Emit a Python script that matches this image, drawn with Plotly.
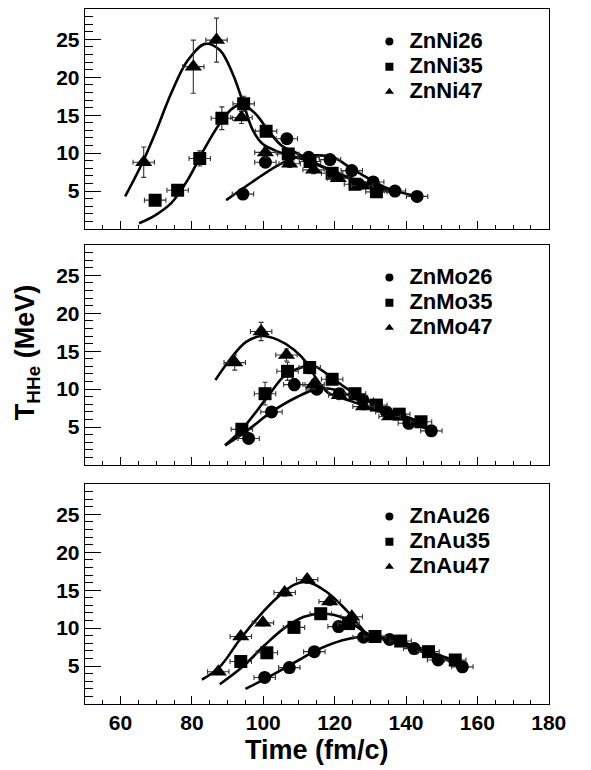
import plotly.graph_objects as go

# ---------------- data ----------------
# Top panel: Zn + Ni
ni26_t = [94.3, 100.6, 106.6, 112.7, 118.7, 124.8, 130.8, 136.9, 143.1]
ni26_T = [4.6, 8.8, 11.9, 9.45, 9.15, 7.7, 6.2, 5.0, 4.3]
ni26_err = [0.4, 0.6, 0.6, 0.5, 0.5, 0.4, 0.4, 0.4, 0.3]

ni35_t = [69.7, 76.0, 82.2, 88.4, 94.5, 100.8, 107.0, 113.1, 119.3, 125.7, 131.7]
ni35_T = [3.8, 5.1, 9.3, 14.6, 16.5, 12.9, 9.9, 8.9, 7.35, 5.9, 4.9]
ni35_err = [0.4, 0.5, 1.0, 1.5, 1.0, 0.6, 0.5, 0.5, 0.5, 0.4, 0.4]

ni47_t = [66.5, 80.4, 86.9, 93.9, 100.6, 107.4, 114.1, 121.0, 127.7]
ni47_T = [8.8, 21.4, 24.9, 14.7, 10.1, 8.6, 7.8, 6.7, 5.7]
ni47_err = [2.0, 3.5, 2.9, 0.8, 0.7, 0.5, 0.5, 0.4, 0.4]

ni26_fit_t = [89.6, 96.9, 104.1, 109.6, 115.0, 119.5, 124.0, 128.6, 134.9, 143.1]
ni26_fit_T = [3.8, 6.2, 8.4, 9.5, 9.7, 9.5, 8.2, 6.9, 5.35, 4.3]
ni35_fit_t = [65.2, 69.7, 74.2, 78.8, 83.3, 87.8, 91.4, 94.2, 97.8, 101.4, 105.0, 109.6, 115.0, 121.0, 127.0, 133.0, 138.0]
ni35_fit_T = [0.75, 1.8, 3.4, 6.45, 10.4, 13.9, 15.9, 16.4, 15.2, 13.0, 11.05, 9.95, 8.6, 7.3, 6.1, 5.2, 4.6]
ni47_fit_t = [61.3, 66.0, 69.7, 74.2, 78.8, 83.7, 87.8, 91.4, 94.6, 96.9, 99.6, 104.1, 110.5, 117.0, 124.0, 131.0, 137.0]
ni47_fit_T = [4.3, 8.6, 12.6, 17.9, 22.2, 24.4, 23.6, 20.5, 16.3, 13.2, 11.3, 10.2, 9.3, 8.1, 6.8, 5.7, 4.8]

# Middle panel: Zn + Mo
mo26_t = [95.9, 102.3, 108.7, 115.0, 121.3, 127.9, 134.5, 140.8, 147.1]
mo26_T = [3.5, 7.0, 10.6, 10.0, 9.4, 8.6, 7.0, 5.5, 4.5]
mo26_err = [0.4, 0.5, 0.8, 0.5, 0.5, 0.4, 0.4, 0.4, 0.3]

mo35_t = [94.0, 100.5, 106.8, 113.0, 119.3, 125.7, 131.7, 138.1, 144.2]
mo35_T = [4.7, 9.4, 12.35, 12.85, 11.3, 9.4, 7.9, 6.7, 5.7]
mo35_err = [0.4, 1.5, 1.2, 0.8, 0.5, 0.5, 0.4, 0.4, 0.4]

mo47_t = [92.0, 99.4, 106.5, 114.1, 121.3, 128.1, 135.4]
mo47_T = [13.5, 17.6, 14.5, 10.6, 9.2, 7.7, 6.4]
mo47_err = [1.0, 1.2, 0.8, 0.6, 0.5, 0.4, 0.4]

mo26_fit_t = [89.3, 95.1, 102.3, 109.6, 115.0, 120.4, 124.0, 133.1, 140.0, 147.1]
mo26_fit_T = [2.6, 4.4, 7.0, 9.0, 10.0, 9.9, 9.2, 7.7, 6.0, 4.5]
mo35_fit_t = [89.3, 94.2, 100.5, 106.0, 109.6, 113.2, 115.0, 119.5, 124.0, 133.1, 144.0]
mo35_fit_T = [2.6, 4.8, 8.55, 11.8, 12.7, 13.1, 12.9, 11.4, 9.9, 7.7, 5.7]
mo47_fit_t = [86.6, 90.5, 95.1, 99.6, 104.1, 108.6, 112.3, 115.0, 118.2, 122.2, 127.7, 134.9]
mo47_fit_T = [11.2, 13.8, 16.2, 17.0, 16.5, 15.2, 13.4, 11.3, 9.5, 8.8, 7.9, 6.6]

# Bottom panel: Zn + Au
au26_t = [100.4, 107.3, 114.3, 121.1, 128.1, 135.4, 142.3, 149.0, 155.8]
au26_T = [3.5, 4.8, 6.9, 10.2, 8.8, 8.5, 7.3, 5.8, 4.9]
au26_err = [0.3, 0.3, 0.4, 0.4, 0.4, 0.4, 0.3, 0.3, 0.3]

au35_t = [93.7, 101.0, 108.6, 116.1, 123.9, 131.3, 138.5, 146.3, 153.8]
au35_T = [5.6, 6.75, 10.1, 11.9, 10.6, 8.9, 8.3, 6.9, 5.8]
au35_err = [0.3, 0.4, 0.4, 0.5, 0.4, 0.4, 0.4, 0.3, 0.3]

au47_t = [87.4, 93.7, 99.9, 106.0, 112.3, 118.6, 124.8]
au47_T = [4.25, 8.9, 10.7, 14.7, 16.4, 13.5, 11.5]
au47_err = [0.3, 0.4, 0.4, 0.5, 0.5, 0.5, 0.4]

au26_fit_t = [95.0, 100.5, 105.9, 110.0, 115.0, 122.2, 127.7, 133.1, 138.6, 147.6, 155.8]
au26_fit_T = [2.0, 3.3, 4.7, 5.8, 7.1, 8.4, 8.9, 8.9, 8.2, 6.7, 4.9]
au35_fit_t = [87.8, 94.2, 100.5, 105.9, 111.4, 116.8, 122.2, 126.8, 130.5, 138.5, 146.3, 154.8]
au35_fit_T = [2.6, 4.9, 7.8, 10.0, 11.5, 11.9, 11.4, 10.0, 8.9, 8.2, 6.9, 5.6]
au47_fit_t = [82.8, 87.8, 93.3, 98.7, 104.1, 108.6, 112.3, 117.7, 123.2, 126.8, 129.9, 135.0, 142.0, 148.0, 155.0]
au47_fit_T = [3.2, 4.9, 8.4, 11.5, 14.1, 15.7, 16.1, 14.8, 12.4, 10.4, 8.9, 8.4, 7.3, 6.3, 5.3]

time_err = 3.0  # horizontal error bar half-width (fm/c)

panel_names = [["ZnNi26", "ZnNi35", "ZnNi47"],
               ["ZnMo26", "ZnMo35", "ZnMo47"],
               ["ZnAu26", "ZnAu35", "ZnAu47"]]

x_ticks = [60, 80, 100, 120, 140, 160, 180]
y_ticks = [5, 10, 15, 20, 25]

# ---------------- figure ----------------
FONT = "Liberation Sans, Arial, Helvetica, sans-serif"
symbols = ["circle", "square", "triangle-up"]
msizes = [13, 13, 15]

panels = [
    ([(ni26_t, ni26_T, ni26_err), (ni35_t, ni35_T, ni35_err), (ni47_t, ni47_T, ni47_err)],
     [(ni26_fit_t, ni26_fit_T), (ni35_fit_t, ni35_fit_T), (ni47_fit_t, ni47_fit_T)]),
    ([(mo26_t, mo26_T, mo26_err), (mo35_t, mo35_T, mo35_err), (mo47_t, mo47_T, mo47_err)],
     [(mo26_fit_t, mo26_fit_T), (mo35_fit_t, mo35_fit_T), (mo47_fit_t, mo47_fit_T)]),
    ([(au26_t, au26_T, au26_err), (au35_t, au35_T, au35_err), (au47_t, au47_T, au47_err)],
     [(au26_fit_t, au26_fit_T), (au35_fit_t, au35_fit_T), (au47_fit_t, au47_fit_T)]),
]

fig = go.Figure()
W, H = 591, 770
x_dom = [87.5 / W, 566 / W]
y_doms = [[1 - 229 / H, 1 - 9 / H], [1 - 465 / H, 1 - 245 / H], [1 - 704 / H, 1 - 484 / H]]
legend_keys = ["legend", "legend2", "legend3"]

for p, (pts, fits) in enumerate(panels):
    xa = "x" if p == 0 else f"x{p+1}"
    ya = "y" if p == 0 else f"y{p+1}"
    for (ft, fT) in fits:
        fig.add_trace(go.Scatter(x=ft, y=fT, mode="lines", xaxis=xa, yaxis=ya,
                                 line=dict(color="black", width=2.6, shape="spline", smoothing=1.0),
                                 showlegend=False, hoverinfo="skip"))
    for k, (t, T, e) in enumerate(pts):
        fig.add_trace(go.Scatter(
            x=t, y=T, mode="markers", xaxis=xa, yaxis=ya, showlegend=False,
            marker=dict(symbol=symbols[k], size=msizes[k], color="black"),
            error_x=dict(type="constant", value=time_err, color="#333333", thickness=1.1, width=2.5),
            error_y=dict(type="data", array=e, color="#333333", thickness=1.1, width=2.5),
            name=panel_names[p][k]))
    for k in range(3):
        fig.add_trace(go.Scatter(
            x=[None], y=[None], mode="markers", xaxis=xa, yaxis=ya,
            marker=dict(symbol=symbols[k], size=8, color="black"),
            name=f"<span style='font-size:22px'>{panel_names[p][k]}</span>",
            legend=legend_keys[p], showlegend=True))

axis_common = dict(showgrid=False, zeroline=False, showline=True, linecolor="black",
                   linewidth=1.3, mirror=True, ticks="inside", tickcolor="black", tickwidth=1.2)

layout = dict(width=W, height=H, autosize=False, margin=dict(l=0, r=0, t=0, b=0),
              paper_bgcolor="white", plot_bgcolor="white",
              font=dict(family=FONT, color="black"))

for p in range(3):
    xk = "xaxis" if p == 0 else f"xaxis{p+1}"
    yk = "yaxis" if p == 0 else f"yaxis{p+1}"
    ya = "y" if p == 0 else f"y{p+1}"
    xa = "x" if p == 0 else f"x{p+1}"
    layout[xk] = dict(axis_common, domain=x_dom, anchor=ya, range=[50, 180],
                      tickvals=x_ticks, ticklen=8, showticklabels=(p == 2),
                      tickfont=dict(size=21, family=FONT, weight="bold"),
                      minor=dict(dtick=5, tick0=0, ticks="inside", ticklen=4,
                                 tickcolor="black", tickwidth=1))
    layout[yk] = dict(axis_common, domain=y_doms[p], anchor=xa, range=[0, 29],
                      tickvals=y_ticks, ticklen=16,
                      tickfont=dict(size=21, family=FONT, weight="bold"),
                      minor=dict(dtick=1, tick0=0, ticks="inside", ticklen=8,
                                 tickcolor="black", tickwidth=1))
    layout[legend_keys[p]] = dict(x=381 / W, xanchor="left",
                                  y=y_doms[p][1] - 15 / H, yanchor="top",
                                  bgcolor="rgba(0,0,0,0)", borderwidth=0,
                                  font=dict(size=17, family=FONT, weight="bold"),
                                  itemsizing="trace")

fig.update_layout(**layout)

fig.add_annotation(text="<b>Time (fm/c)</b>", xref="paper", yref="paper",
                   x=(x_dom[0] + x_dom[1]) / 2, y=1 - 750 / H, showarrow=False,
                   font=dict(size=27, family=FONT), xanchor="center", yanchor="middle")
fig.add_annotation(text="<b>T<sub>HHe</sub> (MeV)</b>", xref="paper", yref="paper",
                   x=28 / W, y=1 - 353 / H, showarrow=False, textangle=-90,
                   font=dict(size=27, family=FONT), xanchor="center", yanchor="middle")

fig.write_html("out.html", config={"responsive": False})
